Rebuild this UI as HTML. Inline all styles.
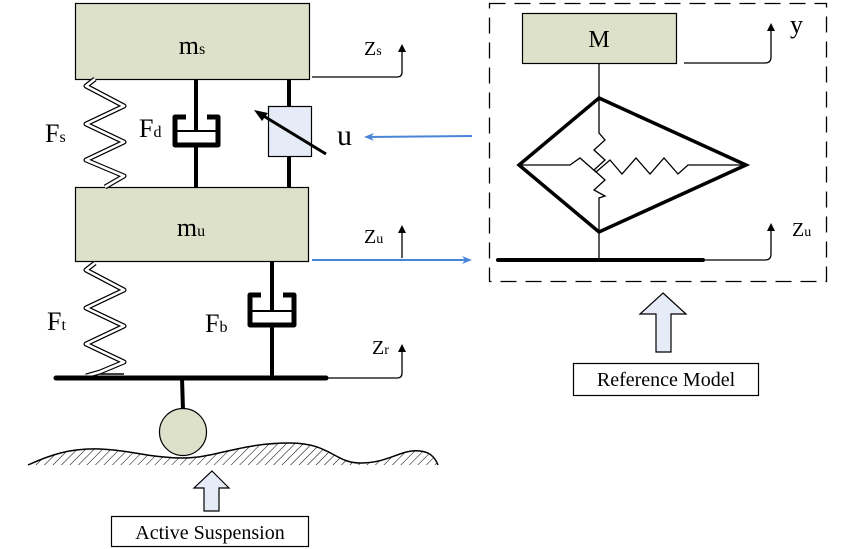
<!DOCTYPE html>
<html><head><meta charset="utf-8"><style>
html,body{margin:0;padding:0;background:#fff}
svg{display:block}
svg text{font-family:"Liberation Serif","DejaVu Serif",serif;fill:#000}
</style></head><body>
<svg width="848" height="549" viewBox="0 0 848 549" xmlns="http://www.w3.org/2000/svg" font-family="Liberation Serif, DejaVu Serif, serif">
<defs>
<pattern id="h" width="6" height="6" patternUnits="userSpaceOnUse" patternTransform="rotate(45)">
<line x1="0" y1="0" x2="0" y2="6" stroke="#000" stroke-width="1"/></pattern>
<marker id="ab" markerWidth="8" markerHeight="8" refX="4" refY="4" orient="auto" markerUnits="userSpaceOnUse"><path d="M0,0 L8,4 L0,8 z" fill="#000"/></marker>
<marker id="abl" markerWidth="10" markerHeight="8" refX="8" refY="4" orient="auto" markerUnits="userSpaceOnUse"><path d="M0,0 L10,4 L0,8 L3,4 z" fill="#4a86d8"/></marker>
</defs>
<rect x="75.5" y="3.5" width="234" height="76" fill="#dde1c9" stroke="#000" stroke-width="1.2"/>
<text x="192" y="54" font-size="26" text-anchor="middle" font-family="Liberation Serif, serif">m<tspan font-size="16">s</tspan></text>
<rect x="75.5" y="187.5" width="233" height="74" fill="#dde1c9" stroke="#000" stroke-width="1.2"/>
<text x="191" y="236" font-size="26" text-anchor="middle" font-family="Liberation Serif, serif">m<tspan font-size="16">u</tspan></text>
<g fill="none" stroke-linejoin="round">
<polyline points="95,79 86,86 124,106 86,124 124,142 86,160 124,176 105,187" stroke="#000" stroke-width="5"/>
<polyline points="95,79 86,86 124,106 86,124 124,142 86,160 124,176 105,187" stroke="#fff" stroke-width="2.6"/>
<polyline points="95,263 86,270 124,290 86,308 124,326 86,344 124,362 100,372 86,376" stroke="#000" stroke-width="5"/>
<polyline points="95,263 86,270 124,290 86,308 124,326 86,344 124,362 100,372 86,376" stroke="#fff" stroke-width="2.6"/>
<path d="M100,374 L124,374" stroke="#000" stroke-width="1.5"/>
</g>
<g font-family="Liberation Serif, serif">
<text x="45" y="142" font-size="26">F<tspan font-size="16">s</tspan></text>
<text x="139" y="137" font-size="26">F<tspan font-size="16">d</tspan></text>
<text x="47" y="330" font-size="26">F<tspan font-size="16">t</tspan></text>
<text x="205" y="332" font-size="26">F<tspan font-size="16">b</tspan></text>
</g>
<g stroke="#000" fill="none">
<line x1="196" y1="79" x2="196" y2="131" stroke-width="4"/>
<line x1="196" y1="147" x2="196" y2="187" stroke-width="4"/>
<path d="M186,117 L175,117 L175,145 L218,145 L218,117 L207,117" stroke-width="5" stroke-linejoin="round"/>
<line x1="176" y1="131" x2="217" y2="131" stroke-width="2"/>
<line x1="289" y1="79" x2="289" y2="106" stroke-width="4"/>
<line x1="289" y1="156" x2="289" y2="187" stroke-width="4"/>
<rect x="268.5" y="106.5" width="43" height="50" fill="#e6ecf7" stroke-width="1.2"/>
<line x1="326" y1="154" x2="262" y2="115" stroke-width="3"/>
<path d="M254,110 L268,113 L262,121 z" fill="#000" stroke="none"/>
<line x1="272" y1="261" x2="272" y2="311" stroke-width="4"/>
<line x1="272" y1="326" x2="272" y2="377" stroke-width="4"/>
<path d="M261,295 L250,295 L250,325 L294,325 L294,295 L283,295" stroke-width="5" stroke-linejoin="round"/>
<line x1="251" y1="311" x2="293" y2="311" stroke-width="2"/>
<line x1="56" y1="378" x2="326" y2="378" stroke-width="5" stroke-linecap="round"/>
<line x1="182" y1="378" x2="183" y2="410" stroke-width="4"/>
</g>
<circle cx="183" cy="432" r="23.5" fill="#dde1c9" stroke="#000" stroke-width="1.2"/>
<path d="M28,465 C50,455 70,448 100,449 C130,450 150,458 183,458 C215,458 240,443 290,443 C330,443 335,463 360,463 C390,463 400,449 420,451 C432,452 436,460 438,465 Z" fill="url(#h)"/>
<path d="M28,465 C50,455 70,448 100,449 C130,450 150,458 183,458 C215,458 240,443 290,443 C330,443 335,463 360,463 C390,463 400,449 420,451 C432,452 436,460 438,465" fill="none" stroke="#000" stroke-width="1.5"/>
<g fill="none" stroke="#000" stroke-width="1.3">
<path d="M312,77 L397,77 Q402,77 402,72 L402,48" marker-end="url(#ab)"/>
<path d="M402,258 L402,229" marker-end="url(#ab)"/>
<path d="M328,378 L397,378 Q402,378 402,373 L402,348" marker-end="url(#ab)"/>
</g>
<g font-family="Liberation Serif, serif">
<text x="364" y="55" font-size="20">Z<tspan font-size="14">s</tspan></text>
<text x="364" y="243" font-size="20">Z<tspan font-size="14">u</tspan></text>
<text x="372" y="354" font-size="20">Z<tspan font-size="14">r</tspan></text>
<text x="337" y="145" font-size="30">u</text>
</g>
<line x1="472" y1="136" x2="366" y2="137" stroke="#4a86d8" stroke-width="2" marker-end="url(#abl)"/>
<line x1="312" y1="260" x2="470" y2="260" stroke="#4a86d8" stroke-width="2" marker-end="url(#abl)"/>
<path d="M212,471 L229,488 L219,488 L219,511 L204,511 L204,488 L194,488 Z" fill="#e6ecf7" stroke="#000" stroke-width="1.2"/>
<rect x="111.5" y="516.5" width="197" height="30" fill="#fff" stroke="#000" stroke-width="1.2"/>
<text x="210" y="539" font-size="20" text-anchor="middle" font-family="Liberation Serif, serif">Active Suspension</text>
<rect x="489.5" y="3.5" width="337" height="278" fill="none" stroke="#000" stroke-width="1.3" stroke-dasharray="16,9"/>
<rect x="522.5" y="13.5" width="154" height="50" fill="#dde1c9" stroke="#000" stroke-width="1.2"/>
<g font-family="Liberation Serif, serif">
<text x="599" y="47" font-size="24" text-anchor="middle">M</text>
<text x="790" y="33" font-size="26">y</text>
<text x="792" y="236" font-size="20">Z<tspan font-size="14">u</tspan></text>
</g>
<g fill="none" stroke="#000">
<path d="M684,63 L765,63 Q771,63 771,57 L771,27" stroke-width="1.3" marker-end="url(#ab)"/>
<path d="M705,260 L765,260 Q771,260 771,254 L771,227" stroke-width="1.3" marker-end="url(#ab)"/>
<line x1="599" y1="64" x2="599" y2="98" stroke-width="1.3"/>
<polygon points="599,98 746,165 599,232 519,165" stroke-width="3.5" stroke-linejoin="miter"/>
<polyline points="599,98 599,133 605,140 594,150 605,160 594,170 605,180 594,190 605,196 599,198 599,232" stroke-width="1.3"/>
<polyline points="519,165 570,165 580,158 596,172 610,160 622,174 636,158 650,174 664,158 678,174 688,165 746,165" stroke-width="1.3"/>
<line x1="599" y1="232" x2="599" y2="261" stroke-width="1.3"/>
<line x1="498" y1="260" x2="703" y2="260" stroke-width="4" stroke-linecap="round"/>
</g>
<path d="M663,293 L686,314 L671,314 L671,352 L656,352 L656,314 L640,314 Z" fill="#e6ecf7" stroke="#000" stroke-width="1.2"/>
<rect x="573.5" y="363.5" width="185" height="32" fill="#fff" stroke="#000" stroke-width="1.2"/>
<text x="666" y="386" font-size="20" text-anchor="middle" font-family="Liberation Serif, serif">Reference Model</text>
</svg>
</body></html>
